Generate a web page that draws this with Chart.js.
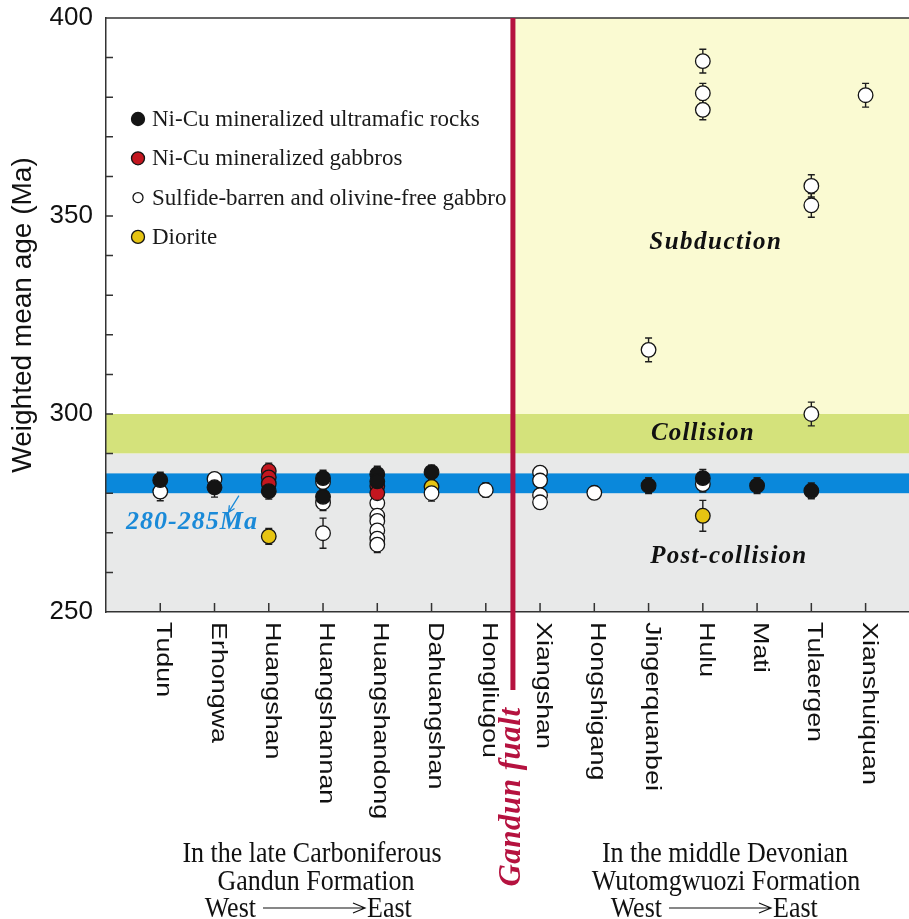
<!DOCTYPE html>
<html>
<head>
<meta charset="utf-8">
<script src="https://cdn.jsdelivr.net/npm/chart.js@4.4.1/dist/chart.umd.min.js"></script>
<style>
  html, body { margin: 0; padding: 0; background: #ffffff; }
  #wrap { width: 909px; height: 919px; }
</style>
</head>
<body>
<div id="wrap"><canvas id="c" width="909" height="919"></canvas></div>
<script>
// Localities from west to east; the Gandun fault lies between Hongliugou and Xiangshan
const localities = ['Tudun', 'Erhongwa', 'Huangshan', 'Huangshannan', 'Huangshandong', 'Dahuangshan', 'Hongliugou',
  'Xiangshan', 'Hongshigang', 'Jingerquanbei', 'Hulu', 'Mati', 'Tulaergen', 'Xianshuiquan'];
const ageTicks = [250, 300, 350, 400];
const minorStep = 10;

// Ni-Cu mineralized ultramafic rocks
const ultramaficSite = ['Tudun', 'Erhongwa', 'Huangshan', 'Huangshannan', 'Huangshannan', 'Huangshandong', 'Huangshandong',
  'Dahuangshan', 'Jingerquanbei', 'Hulu', 'Mati', 'Tulaergen'];
const ultramaficAge = [283.3, 281.5, 280.5, 283.8, 279.1, 284.8, 283.0, 285.3, 281.9, 283.8, 281.9, 280.6];
const ultramaficErr = [2.0, 2.5, 2.0, 2.0, 2.0, 2.0, 2.0, 1.8, 2.0, 2.2, 2.0, 2.0];

// Ni-Cu mineralized gabbros
const gabbroSite = ['Huangshan', 'Huangshan', 'Huangshan', 'Huangshandong', 'Huangshandong'];
const gabbroAge = [285.6, 284.0, 282.4, 281.8, 280.0];
const gabbroErr = [2.0, 2.0, 2.0, 2.0, 2.0];

// Sulfide-barren and olivine-free gabbro
const barrenSite = ['Tudun', 'Erhongwa', 'Huangshannan', 'Huangshannan', 'Huangshannan',
  'Huangshandong', 'Huangshandong', 'Huangshandong', 'Huangshandong', 'Huangshandong', 'Huangshandong',
  'Dahuangshan', 'Hongliugou', 'Xiangshan', 'Xiangshan', 'Xiangshan', 'Xiangshan', 'Hongshigang',
  'Jingerquanbei', 'Hulu', 'Hulu', 'Hulu', 'Hulu', 'Tulaergen', 'Tulaergen', 'Tulaergen', 'Xianshuiquan'];
const barrenAge = [280.4, 283.6, 282.8, 277.6, 269.9,
  277.5, 274.3, 273.0, 270.6, 268.5, 267.0,
  280.0, 280.8, 285.2, 283.2, 279.5, 277.7, 280.1,
  316.2, 389.1, 381.0, 376.8, 282.3, 357.6, 352.7, 300.0, 380.5];
const barrenErr = [2.3, 1.5, 2.0, 2.0, 3.8,
  2.0, 2.0, 2.0, 2.0, 2.0, 2.0,
  2.0, 1.8, 1.5, 1.5, 1.5, 1.5, 1.2,
  3.0, 3.0, 2.5, 2.5, 2.0, 2.8, 3.0, 3.0, 3.0];

// Diorite
const dioriteSite = ['Huangshan', 'Dahuangshan', 'Hulu'];
const dioriteAge = [269.1, 281.6, 274.3];
const dioriteErr = [2.0, 2.0, 3.9];

// Tectonic stages (Ma)
const postCollision = [250, 290];
const zirconPeak = [280, 285];
const collision = [290, 300];
const subduction = [300, 400];
const faultPosition = 7.5;

const siteIndex = name => localities.indexOf(name) + 1;
const toPoints = (sites, ages) => sites.map((s, i) => ({ x: siteIndex(s), y: ages[i] }));

const SERIF = '"Liberation Serif", "Times New Roman", serif';
const SANS = '"Liberation Sans", Arial, sans-serif';
const FAULT = '#b5123f';

const datasets = [
  { label: 'Ni-Cu mineralized ultramafic rocks', data: toPoints(ultramaficSite, ultramaficAge), err: ultramaficErr,
    backgroundColor: '#141414', legendRadius: 6.5 },
  { label: 'Ni-Cu mineralized gabbros', data: toPoints(gabbroSite, gabbroAge), err: gabbroErr,
    backgroundColor: '#c3161f', legendRadius: 6.5 },
  { label: 'Sulfide-barren and olivine-free gabbro', data: toPoints(barrenSite, barrenAge), err: barrenErr,
    backgroundColor: '#ffffff', legendRadius: 5 },
  { label: 'Diorite', data: toPoints(dioriteSite, dioriteAge), err: dioriteErr,
    backgroundColor: '#e6c412', legendRadius: 6.5 }
].map(d => Object.assign(d, {
  borderColor: '#141414', borderWidth: 1.3, pointRadius: 7.3, pointHoverRadius: 7.3, clip: false
}));

const figurePlugin = {
  id: 'figure',
  beforeDraw(chart) {
    const { ctx, chartArea: a, scales: { x, y } } = chart;
    const fx = x.getPixelForValue(faultPosition);
    const band = (x0, x1, r, color) => {
      const y0 = y.getPixelForValue(r[1]), y1 = y.getPixelForValue(r[0]);
      ctx.fillStyle = color;
      ctx.fillRect(x0, y0, x1 - x0, y1 - y0);
    };
    ctx.save();
    band(fx, a.right, subduction, '#fafad2');
    band(a.left, a.right, collision, '#d4e27b');
    band(a.left, a.right, postCollision, '#e8e9e9');
    band(a.left, a.right, zirconPeak, '#0a88db');
    ctx.restore();
  },
  beforeDatasetsDraw(chart) {
    const { ctx, scales: { x, y } } = chart;
    ctx.save();
    ctx.strokeStyle = '#1e1e1e';
    ctx.lineWidth = 1.4;
    chart.data.datasets.forEach(ds => {
      ds.data.forEach((p, i) => {
        const px = x.getPixelForValue(p.x);
        const top = y.getPixelForValue(p.y + ds.err[i]);
        const bot = y.getPixelForValue(p.y - ds.err[i]);
        ctx.beginPath();
        ctx.moveTo(px, top); ctx.lineTo(px, bot);
        ctx.moveTo(px - 3.5, top); ctx.lineTo(px + 3.5, top);
        ctx.moveTo(px - 3.5, bot); ctx.lineTo(px + 3.5, bot);
        ctx.stroke();
      });
    });
    ctx.restore();
  },
  afterDraw(chart) {
    const { ctx, chartArea: a, scales: { x, y } } = chart;
    ctx.save();

    // frame top edge and inward tick marks
    ctx.strokeStyle = '#333';
    ctx.lineWidth = 1.5;
    ctx.beginPath();
    ctx.moveTo(a.left, a.top); ctx.lineTo(a.right, a.top);
    for (let v = ageTicks[0] + minorStep; v < ageTicks[ageTicks.length - 1]; v += minorStep) {
      const py = y.getPixelForValue(v);
      ctx.moveTo(a.left, py); ctx.lineTo(a.left + 7, py);
    }
    localities.forEach((_, i) => {
      const px = x.getPixelForValue(i + 1);
      ctx.moveTo(px, a.bottom); ctx.lineTo(px, a.bottom - 9);
    });
    ctx.stroke();

    // Gandun fault
    const fx = x.getPixelForValue(faultPosition);
    ctx.strokeStyle = FAULT;
    ctx.lineWidth = 5;
    ctx.beginPath();
    ctx.moveTo(fx, a.top); ctx.lineTo(fx, a.bottom + 78);
    ctx.stroke();

    // locality names, rotated clockwise
    ctx.fillStyle = '#111';
    ctx.font = '21.5px ' + SANS;
    ctx.textAlign = 'left';
    ctx.textBaseline = 'middle';
    localities.forEach((name, i) => {
      ctx.save();
      ctx.translate(x.getPixelForValue(i + 1) + 3, a.bottom + 10);
      ctx.rotate(Math.PI / 2);
      ctx.scale(1.25, 1);
      ctx.fillText(name, 0, 0);
      ctx.restore();
    });

    // fault label
    ctx.save();
    ctx.fillStyle = FAULT;
    ctx.font = 'italic bold 31px ' + SERIF;
    ctx.letterSpacing = '0.5px';
    ctx.textAlign = 'center';
    ctx.translate(fx - 1, a.bottom + 185);
    ctx.rotate(-Math.PI / 2);
    ctx.fillText('Gandun fualt', 0, 0);
    ctx.restore();

    // legend
    ctx.font = '23px ' + SERIF;
    ctx.textAlign = 'left';
    chart.data.datasets.forEach((ds, i) => {
      const ly = 119 + i * 39.3;
      ctx.beginPath();
      ctx.arc(138, ly, ds.legendRadius, 0, Math.PI * 2);
      ctx.fillStyle = ds.backgroundColor;
      ctx.fill();
      ctx.lineWidth = 1.3;
      ctx.strokeStyle = '#141414';
      ctx.stroke();
      ctx.fillStyle = '#1a1a1a';
      ctx.fillText(ds.label, 152, ly + 1);
    });

    // stage labels
    const stage = (text, vx, vy, spacing) => {
      ctx.letterSpacing = spacing;
      ctx.fillText(text, x.getPixelForValue(vx), y.getPixelForValue(vy));
    };
    ctx.textAlign = 'center';
    ctx.fillStyle = '#111';
    ctx.font = 'italic bold 25px ' + SERIF;
    stage('Subduction', 11.24, 343.2, '1.5px');
    stage('Collision', 11.0, 295.0, '1.2px');
    stage('Post-collision', 11.48, 264.1, '1.2px');

    ctx.fillStyle = '#1a8ad8';
    ctx.font = 'italic bold 26px ' + SERIF;
    stage('280-285Ma', 1.585, 272.7, '1px');
    ctx.letterSpacing = '0px';

    // pointer to the 280-285 Ma band
    const ax0 = x.getPixelForValue(2.45), ay0 = y.getPixelForValue(zirconPeak[0] - 0.6);
    const ax1 = x.getPixelForValue(2.26), ay1 = y.getPixelForValue(275.2);
    const ang = Math.atan2(ay1 - ay0, ax1 - ax0);
    ctx.strokeStyle = '#1a8ad8';
    ctx.lineWidth = 1.3;
    ctx.beginPath();
    ctx.moveTo(ax0, ay0); ctx.lineTo(ax1, ay1);
    ctx.moveTo(ax1 - 7 * Math.cos(ang - 0.45), ay1 - 7 * Math.sin(ang - 0.45));
    ctx.lineTo(ax1, ay1);
    ctx.lineTo(ax1 - 7 * Math.cos(ang + 0.45), ay1 - 7 * Math.sin(ang + 0.45));
    ctx.stroke();

    // formation captions
    ctx.fillStyle = '#111';
    ctx.strokeStyle = '#111';
    ctx.font = '26px ' + SERIF;
    ctx.textBaseline = 'alphabetic';
    const text = (str, tx, ty, align) => {
      ctx.save();
      ctx.textAlign = align;
      ctx.translate(tx, ty);
      ctx.scale(1, 1.1);
      ctx.fillText(str, 0, 0);
      ctx.restore();
    };
    const caption = (lines, cx, west, east) => {
      text(lines[0], cx[0], 862, 'center');
      text(lines[1], cx[1], 890, 'center');
      text('West', west, 917, 'right');
      text('East', east, 917, 'left');
      const l0 = west + 7, l1 = east - 2, ly = 908;
      ctx.lineWidth = 1.2;
      ctx.beginPath();
      ctx.moveTo(l0, ly); ctx.lineTo(l1, ly);
      ctx.moveTo(l1 - 12, ly - 5); ctx.lineTo(l1, ly); ctx.lineTo(l1 - 12, ly + 5);
      ctx.stroke();
    };
    caption(['In the late Carboniferous', 'Gandun Formation'], [312, 316], 256, 367);
    caption(['In the middle Devonian', 'Wutomgwuozi Formation'], [725, 726], 662, 773);

    ctx.restore();
  }
};

new Chart(document.getElementById('c'), {
  type: 'scatter',
  data: { datasets },
  options: {
    responsive: false,
    animation: false,
    events: [],
    devicePixelRatio: 1,
    layout: { autoPadding: false, padding: { top: 18, right: 0, bottom: 0, left: 0 } },
    plugins: { legend: { display: false }, tooltip: { enabled: false } },
    scales: {
      x: {
        type: 'linear', min: 0, max: 14.8,
        grid: { display: false, drawTicks: false },
        border: { display: true, color: '#333', width: 1.5 },
        ticks: { display: false },
        afterFit: s => { s.height = 307; s.paddingLeft = 0; s.paddingRight = 0; }
      },
      y: {
        type: 'linear', min: ageTicks[0], max: ageTicks[ageTicks.length - 1],
        grid: { display: false, drawTicks: false },
        border: { display: true, color: '#333', width: 1.5 },
        afterBuildTicks: s => { s.ticks = ageTicks.map(v => ({ value: v })); },
        ticks: { color: '#111', padding: 13, font: { family: SANS, size: 26 } },
        title: {
          display: true, text: 'Weighted mean age (Ma)', color: '#111',
          font: { family: SANS, size: 28 }, padding: { top: 6, bottom: 0 }
        },
        afterFit: s => { s.width = 106; s.paddingTop = 0; s.paddingBottom = 0; }
      }
    }
  },
  plugins: [figurePlugin]
});
</script>
</body>
</html>
